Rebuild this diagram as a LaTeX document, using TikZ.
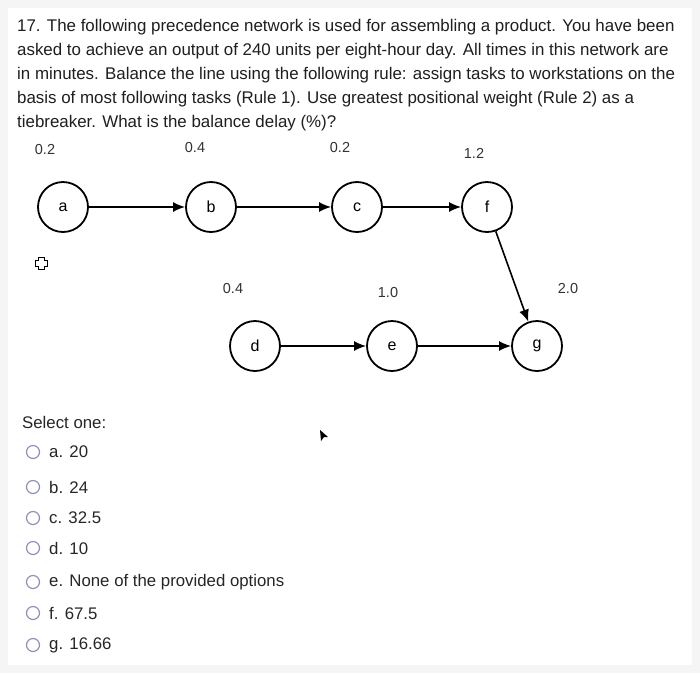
\documentclass[tikz,border=0pt]{standalone}
\usepackage{fontspec}
\setmainfont{Liberation Sans}
\begin{document}
\begin{tikzpicture}[x=1pt,y=-1pt,
  task/.style={circle,draw=black,line width=1.8pt,fill=white,minimum size=50pt,inner sep=0pt,font=\fontsize{16}{18}\selectfont},
  tm/.style={font=\fontsize{14.5}{16}\selectfont,text=black!80},
  link/.style={line width=1.6pt,-{Latex[length=12pt,width=10pt]}},
  q/.style={anchor=west,font=\fontsize{16.9}{19}\selectfont,text=black!88,inner sep=0pt},
  opt/.style={anchor=west,font=\fontsize{16.8}{19}\selectfont,text=black!85,inner sep=0pt},
  radio/.style={circle,draw=blue!25!gray!70,line width=1.2pt,minimum size=13pt,inner sep=0pt,fill=white}]
\usetikzlibrary{arrows.meta}
\fill[black!4] (0,0) rectangle (700,673);
\fill[white] (8,8) rectangle (692,665);
\node[q] (l1) at (17,27) {17. The following precedence network is used for assembling a product. You have been};
\node[q] (l2) at (17,51) {asked to achieve an output of 240 units per eight-hour day. All times in this network are};
\node[q] (l3) at (17,75) {in minutes. Balance the line using the following rule: assign tasks to workstations on the};
\node[q] (l4) at (17,99) {basis of most following tasks (Rule 1). Use greatest positional weight (Rule 2) as a};
\node[q] (l5) at (17,123) {tiebreaker. What is the balance delay (\%)?};
\node[task] (a) at (63,207) {a};
\node[task] (b) at (211,207) {b};
\node[task] (c) at (357,207) {c};
\node[task] (f) at (487,207) {f};
\node[task] (d) at (255,346) {d};
\node[task] (e) at (392,346) {e};
\node[task] (g) at (537,346) {g};
\node[tm] (ta) at (45,150) {0.2};
\node[tm] (tb) at (195,148) {0.4};
\node[tm] (tc) at (340,148) {0.2};
\node[tm] (tf) at (474,153) {1.2};
\node[tm] (td) at (233,288) {0.4};
\node[tm] (te) at (388,292) {1.0};
\node[tm] (tg) at (568,288) {2.0};
\draw[link] (a) -- (b);
\draw[link] (b) -- (c);
\draw[link] (c) -- (f);
\draw[link] (d) -- (e);
\draw[link] (e) -- (g);
\draw[link] (f) -- (g);
% move cursor icon
\draw[line width=0.9pt,fill=white] (38,257) -- (44,257) -- (44,260) -- (47,260) -- (47,266) -- (44,266) -- (44,269) -- (38,269) -- (38,266) -- (35,266) -- (35,260) -- (38,260) -- cycle;
% pointer
\fill[black] (320,430) -- (328,437) -- (324,437) -- (321,441) -- cycle;
\node[opt] (sel) at (22,422) {Select one:};
\foreach \y/\t [count=\i] in {452/a. 20,487/b. 24,518/c. 32.5,548/d. 10,582/e. None of the provided options,613/f. 67.5,645/g. 16.66}{
  \node[radio] (r\i) at (33,\y) {};
  \node[opt] (o\i) at (49,\y) {\t};
}
\end{tikzpicture}
\end{document}
